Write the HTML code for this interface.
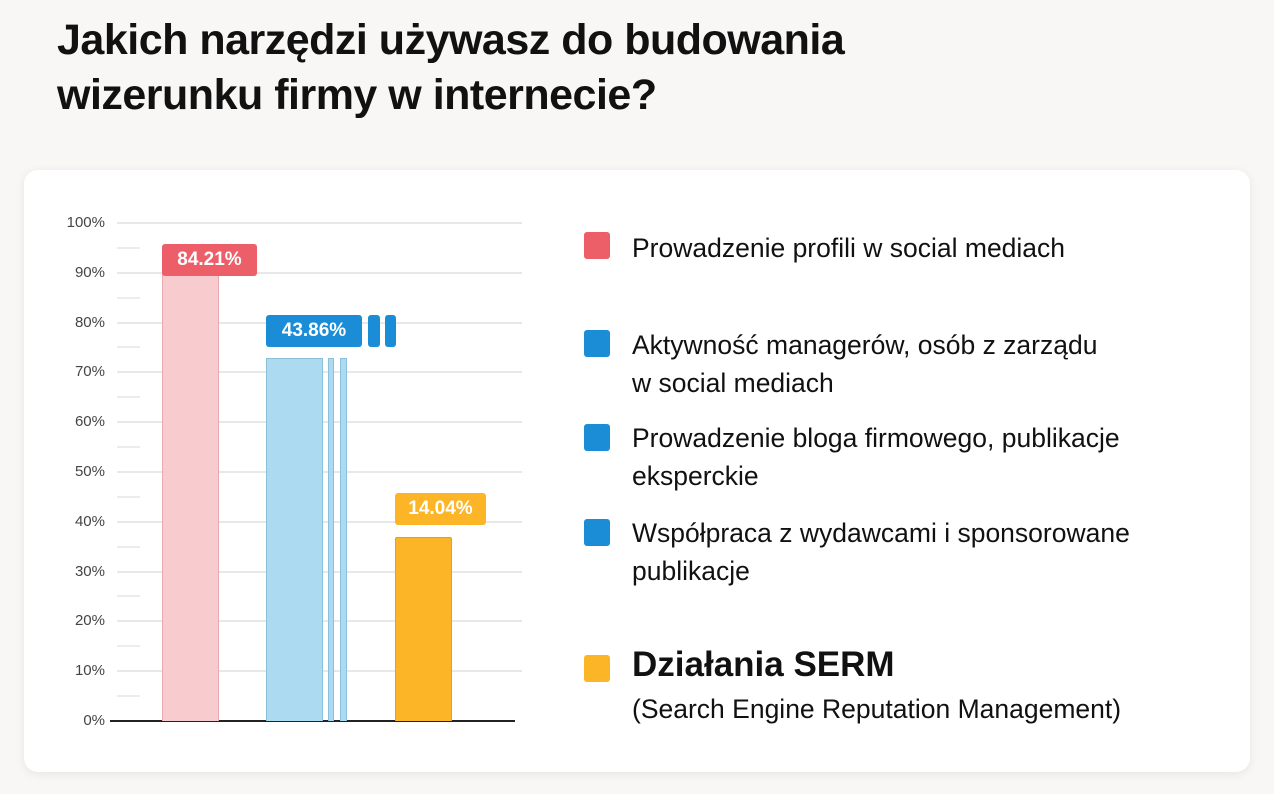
<!DOCTYPE html>
<html><head><meta charset="utf-8"><style>
body{margin:0;width:1274px;height:794px;background:#f8f7f6;font-family:"Liberation Sans",sans-serif;position:relative;overflow:hidden}
.t{position:absolute;left:57px;font-weight:bold;font-size:43px;color:#111;letter-spacing:-0.5px}
.card{position:absolute;left:24px;top:170px;width:1226px;height:602px;background:#fff;border-radius:14px;box-shadow:0 2px 10px rgba(0,0,0,0.08)}
.a{position:absolute}
.yl{position:absolute;right:1169px;font-size:15px;color:#444;text-align:right}
.g{position:absolute;left:117px;width:405px;height:2px;background:#e8e8e8}
.m{position:absolute;left:117px;width:23px;height:2px;background:#ececec}
.lab{position:absolute;color:#fff;font-size:19px;font-weight:bold;border-radius:3px;text-align:center;line-height:32px;height:32px}
.sq{position:absolute;left:584px;width:26px;height:27px;border-radius:3px}
.lt{position:absolute;left:632px;font-size:26.5px;color:#111;line-height:38px}
</style></head><body>
<div class="t" style="top:16px">Jakich narzędzi używasz do budowania</div>
<div class="t" style="top:71px">wizerunku firmy w internecie?</div>
<div class="card"></div>
<div id="grid"></div>
<script>
var h='';for(var i=0;i<=10;i++){var y=721-i*49.8;
if(i>0)h+='<div class="g" style="top:'+(y-1)+'px"></div>';
h+='<div class="yl" style="top:'+(y-9)+'px">'+(i*10)+'%</div>';
if(i<10)h+='<div class="m" style="top:'+(y-26)+'px"></div>';}
document.getElementById('grid').innerHTML=h;
</script>
<div class="a" style="left:110px;top:720px;width:405px;height:2px;background:#222"></div>
<div class="a" style="left:162px;top:260px;width:55px;height:460px;background:#f8cbcf;border:1px solid #e6a9ae;border-bottom:none;border-radius:2px 2px 0 0"></div>
<div class="a" style="left:266px;top:358px;width:55px;height:362px;background:#acdaf1;border:1px solid #8cbfd9;border-bottom:none"></div>
<div class="a" style="left:328px;top:358px;width:4px;height:362px;background:#acdaf1;border:1px solid #8cbfd9;border-bottom:none"></div>
<div class="a" style="left:340px;top:358px;width:5px;height:362px;background:#acdaf1;border:1px solid #8cbfd9;border-bottom:none"></div>
<div class="a" style="left:395px;top:537px;width:55px;height:183px;background:#fbb526;border:1px solid #e0a020;border-bottom:none;border-radius:2px 2px 0 0"></div>
<div class="lab" style="left:162px;top:244px;width:95px;background:#ed5f68">84.21%</div>
<div class="lab" style="left:266px;top:315px;width:96px;background:#1a8dd6">43.86%</div>
<div class="lab" style="left:368px;top:315px;width:12px;background:#1a8dd6"></div>
<div class="lab" style="left:385px;top:315px;width:11px;background:#1a8dd6"></div>
<div class="lab" style="left:395px;top:493px;width:91px;background:#fbb526">14.04%</div>
<div class="sq" style="top:232px;background:#ed5f68"></div>
<div class="lt" style="top:229px">Prowadzenie profili w social mediach</div>
<div class="sq" style="top:330px;background:#1a8dd6"></div>
<div class="lt" style="top:326px">Aktywność managerów, osób z zarządu<br>w social mediach</div>
<div class="sq" style="top:424px;background:#1a8dd6"></div>
<div class="lt" style="top:419px">Prowadzenie bloga firmowego, publikacje<br>eksperckie</div>
<div class="sq" style="top:519px;background:#1a8dd6"></div>
<div class="lt" style="top:514px">Współpraca z wydawcami i sponsorowane<br>publikacje</div>
<div class="sq" style="top:655px;background:#fbb526"></div>
<div class="lt" style="top:646px;font-size:35px;font-weight:bold">Działania SERM</div>
<div class="lt" style="top:690px">(Search Engine Reputation Management)</div>
</body></html>
